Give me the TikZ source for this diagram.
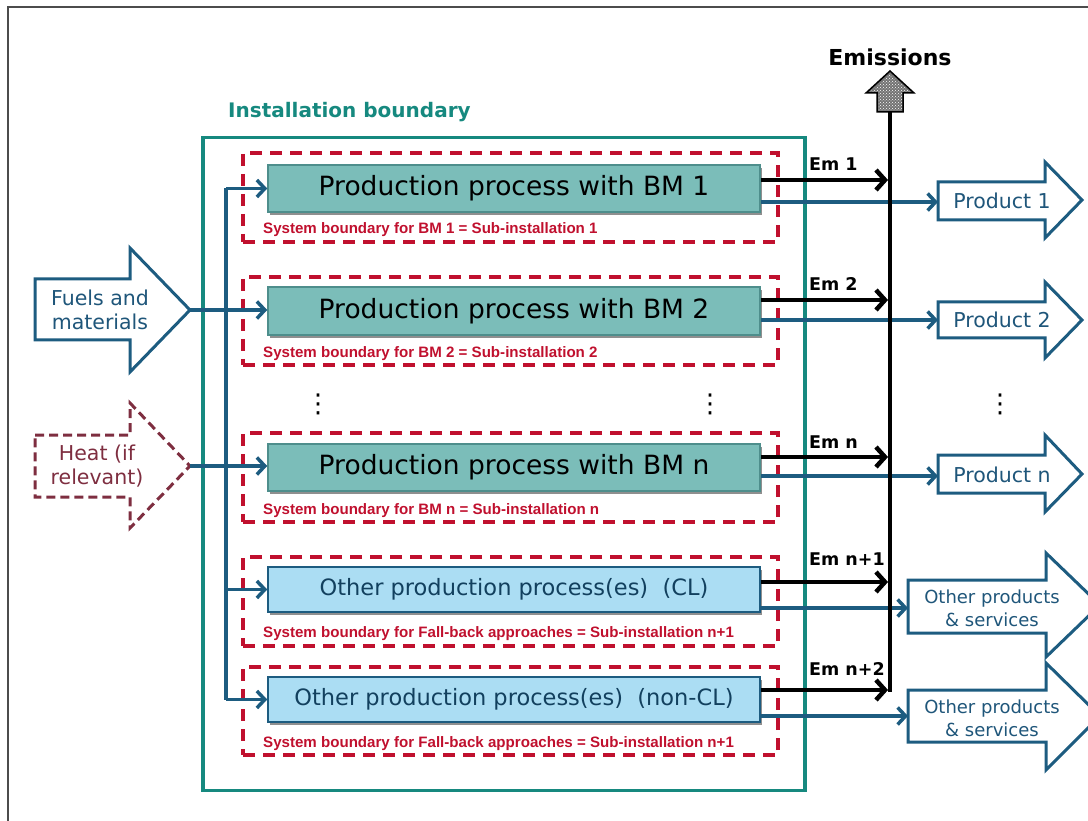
\documentclass[tikz,border=0pt]{standalone}
\usepackage{fontspec}
\setmainfont{DejaVu Sans}
\newfontfamily\redfont{Liberation Sans}
\usetikzlibrary{arrows.meta,shadows,patterns,calc}
\definecolor{instteal}{HTML}{16897F}
\definecolor{procfill}{HTML}{7BBDB9}
\definecolor{procdraw}{HTML}{4E8E8C}
\definecolor{otherfill}{HTML}{ABDDF3}
\definecolor{flowblue}{HTML}{1D5C80}
\definecolor{textblue}{HTML}{1F567A}
\definecolor{textdark}{HTML}{12405E}
\definecolor{sbred}{HTML}{C0102E}
\definecolor{heatred}{HTML}{7E2E40}
\begin{document}
\begin{tikzpicture}[x=1pt,y=-1pt,
  sbox/.style={draw=sbred, line width=3.5pt, dash pattern=on 12pt off 8pt, minimum width=535pt, inner sep=0pt},
  proc/.style={draw=procdraw, line width=1.5pt, fill=procfill, minimum width=492pt, inner sep=0pt,
     font=\fontsize{26.5}{30}\selectfont,
     drop shadow={shadow xshift=2pt, shadow yshift=-3pt, fill=black!55, opacity=0.8}},
  other/.style={proc, fill=otherfill, draw=flowblue, text=textdark, font=\fontsize{22.5}{26}\selectfont},
  sblabel/.style={anchor=west, text=sbred, font=\redfont\bfseries\fontsize{15.1}{18}\selectfont, inner sep=0pt},
  flow/.style={draw=flowblue, line width=3.5pt},
  flowarrow/.style={flow, -{Straight Barb[length=8pt, width=17pt]}},
  emarrow/.style={draw=black, line width=4.5pt, -{Straight Barb[length=9pt, width=20pt]}},
  emlabel/.style={anchor=base west, font=\bfseries\fontsize{17.5}{20}\selectfont, inner sep=0pt},
  blockprod/.style={draw=flowblue, line width=3pt, fill=white, line join=miter},
  prodtext/.style={text=textblue, font=\fontsize{20.5}{24}\selectfont, align=center, inner sep=0pt},
  othertext/.style={text=textblue, font=\fontsize{18}{23}\selectfont, align=center, inner sep=0pt},
  dots/.style={font=\fontsize{26}{26}\selectfont, inner sep=0pt}
]
\useasboundingbox (0,0) rectangle (1088,821);
% outer frame
\draw[black!70, line width=1.3pt] (8,840) -- (8,7) -- (1110,7);

% installation boundary
\node[draw=instteal, line width=3.8pt, minimum width=602pt, minimum height=653pt, inner sep=0pt] (inst) at (504,464) {};
\node[anchor=west, text=instteal, font=\bfseries\fontsize{20}{24}\selectfont, inner sep=0pt] (insttitle) at (228,112) {Installation boundary};

% sub-installation boundaries
\node[sbox, minimum height=89pt] (sb1) at (510.5,197.5) {};
\node[sbox, minimum height=88pt] (sb2) at (510.5,321) {};
\node[sbox, minimum height=89pt] (sbn) at (510.5,477.5) {};
\node[sbox, minimum height=89pt] (sbcl) at (510.5,601.5) {};
\node[sbox, minimum height=88pt] (sbncl) at (510.5,711) {};

% process boxes
\node[proc, minimum height=47pt] (P1) at (514,188.5) {Production process with BM 1};
\node[proc, minimum height=48pt] (P2) at (514,311) {Production process with BM 2};
\node[proc, minimum height=47pt] (Pn) at (514,467.5) {Production process with BM n};
\node[other, minimum height=45pt] (PCL) at (514,589.5) {Other production process(es)~ (CL)};
\node[other, minimum height=45pt] (PNCL) at (514,699.5) {Other production process(es)~ (non-CL)};

% red labels
\node[sblabel] (l1) at (263,230) {System boundary for BM 1 = Sub-installation 1};
\node[sblabel] (l2) at (263,354) {System boundary for BM 2 = Sub-installation 2};
\node[sblabel] (ln) at (263,511) {System boundary for BM n = Sub-installation n};
\node[sblabel] (lcl) at (263,634) {System boundary for Fall-back approaches = Sub-installation n+1};
\node[sblabel] (lncl) at (263,744) {System boundary for Fall-back approaches = Sub-installation n+1};

% inputs
\draw[blockprod] (35,279) -- (130,279) -- (130,248) -- (190,310) -- (130,372) -- (130,340) -- (35,340) -- cycle;
\node[prodtext] (fuels) at (100,310) {Fuels and\\materials};
\coordinate (fuelstip) at (190,310);
\draw[draw=heatred, line width=3pt, dash pattern=on 9pt off 5pt, line join=miter] (35,435) -- (130,435) -- (130,403) -- (190,466) -- (130,528) -- (130,497) -- (35,497) -- cycle;
\node[prodtext, text=heatred] (heat) at (97,466) {Heat (if\\relevant)};
\coordinate (heattip) at (190,466);

% distribution line
\coordinate (dist) at (226,0);
\draw[flow] (dist |- P1.west) -- (dist |- PNCL.west);
\draw[flowarrow] (dist |- P1.west) -- (P1.west);
\draw[flowarrow] (fuelstip) -- (fuelstip -| P2.west);
\draw[flowarrow] (heattip) -- (heattip -| Pn.west);
\draw[flowarrow] (dist |- PCL.west) -- (PCL.west);
\draw[flowarrow] (dist |- PNCL.west) -- (PNCL.west);

% product blocks
\draw[blockprod] (938,182) -- (1045,182) -- (1045,162) -- (1082,200) -- (1045,238) -- (1045,220) -- (938,220) -- cycle;
\node[prodtext] (prod1) at (1002,201) {Product 1};
\draw[blockprod] (938,302) -- (1045,302) -- (1045,282) -- (1082,320) -- (1045,358) -- (1045,338) -- (938,338) -- cycle;
\node[prodtext] (prod2) at (1002,320) {Product 2};
\draw[blockprod] (938,455) -- (1045,455) -- (1045,435) -- (1082,474) -- (1045,512) -- (1045,493) -- (938,493) -- cycle;
\node[prodtext] (prodn) at (1002,475) {Product n};
\draw[blockprod] (908,580) -- (1046,580) -- (1046,553) -- (1100,605) -- (1046,657) -- (1046,633) -- (908,633) -- cycle;
\node[othertext] (oth1) at (992,608) {Other products\\\& services};
\draw[blockprod] (908,690) -- (1046,690) -- (1046,663) -- (1100,716) -- (1046,770) -- (1046,742) -- (908,742) -- cycle;
\node[othertext] (oth2) at (992,718) {Other products\\\& services};

% product flows
\coordinate (pl1) at (938,202);
\coordinate (pl2) at (938,320);
\coordinate (pln) at (938,476);
\coordinate (plcl) at (908,608);
\coordinate (plncl) at (908,716);
\draw[flowarrow] (P1.east |- pl1) -- (pl1);
\draw[flowarrow] (P2.east |- pl2) -- (pl2);
\draw[flowarrow] (Pn.east |- pln) -- (pln);
\draw[flowarrow] (PCL.east |- plcl) -- (plcl);
\draw[flowarrow] (PNCL.east |- plncl) -- (plncl);

% emissions
\coordinate (emtop) at (890,112);
\coordinate (embot) at (890,692);
\draw[black, line width=4.5pt] (emtop) -- (embot);
\draw[black, line width=1.5pt, fill=black!55, line join=miter] (890,71) -- (914,93) -- (903,93) -- (903,112) -- (877,112) -- (877,93) -- (866,93) -- cycle;
\fill[pattern=crosshatch dots, pattern color=white] (890,74) -- (910,92) -- (902,92) -- (902,111) -- (878,111) -- (878,92) -- (870,92) -- cycle;
\node[font=\bfseries\fontsize{22}{26}\selectfont, inner sep=0pt] (emis) at (890,57) {Emissions};

\coordinate (e1) at (888,180);
\coordinate (e2) at (888,300);
\coordinate (en) at (888,457);
\coordinate (ecl) at (888,582);
\coordinate (encl) at (888,690);
\draw[emarrow] (P1.east |- e1) -- (e1);
\draw[emarrow] (P2.east |- e2) -- (e2);
\draw[emarrow] (Pn.east |- en) -- (en);
\draw[emarrow] (PCL.east |- ecl) -- (ecl);
\draw[emarrow] (PNCL.east |- encl) -- (encl);
\node[emlabel] (em1) at (809,171) {Em 1};
\node[emlabel] (em2) at (809,291) {Em 2};
\node[emlabel] (emn) at (809,448) {Em n};
\node[emlabel] (emcl) at (809,565) {Em n+1};
\node[emlabel] (emncl) at (809,675) {Em n+2};

% ellipses
\node[dots] (d1) at (318,404) {⋮};
\node[dots] (d2) at (710,404) {⋮};
\node[dots] (d3) at (1000,404) {⋮};
\end{tikzpicture}
\end{document}
